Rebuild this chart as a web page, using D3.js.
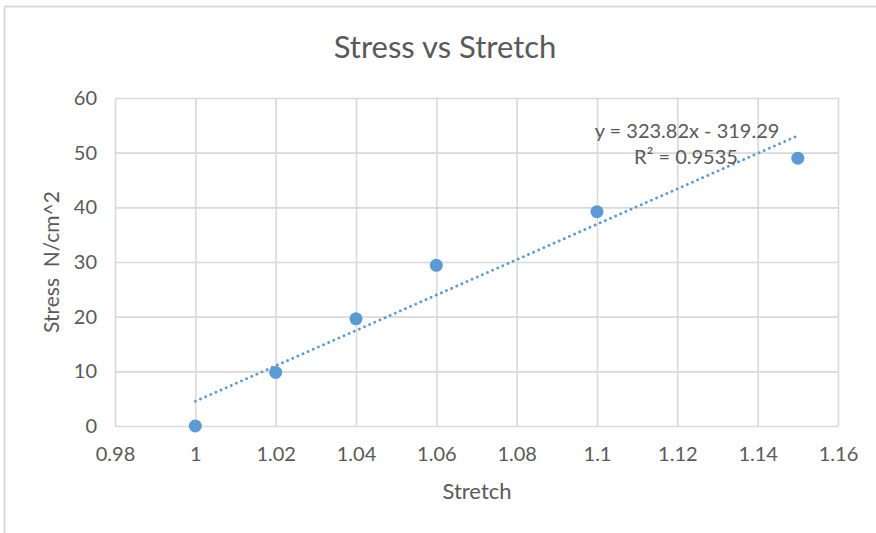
<!DOCTYPE html>
<html><head><meta charset="utf-8">
<script src="https://cdn.jsdelivr.net/npm/d3@7"></script>
<style>body{margin:0;background:#fff;} text{font-family:Lato,"Open Sans",sans-serif;fill:#595959;}</style>
</head><body>
<svg id="c" width="876" height="533"></svg>
<script>
const stretch = [1, 1.02, 1.04, 1.06, 1.1, 1.15];
const stress = [0, 9.8, 19.6, 29.4, 39.2, 49];
const xTicks = [0.98, 1, 1.02, 1.04, 1.06, 1.08, 1.1, 1.12, 1.14, 1.16];
const yTicks = [0, 10, 20, 30, 40, 50, 60];
const title = "Stress vs Stretch";
const xTitle = "Stretch";
const yTitle = "Stress  N/cm^2";
const slope = 323.82, intercept = -319.29;
const eqText = "y = 323.82x - 319.29";
const r2Text = "R² = 0.9535";

const svg = d3.select("#c");
const m = {l:115, r:838, t:98, b:426};
const x = d3.scaleLinear().domain([0.98,1.16]).range([m.l,m.r]);
const y = d3.scaleLinear().domain([0,60]).range([m.b,m.t]);
const grid = "#d9d9d9";

// chart border (partial, as cropped)
svg.append("line").attr("x1",4.5).attr("x2",876).attr("y1",6.5).attr("y2",6.5).attr("stroke",grid).attr("stroke-width",2);
svg.append("line").attr("x1",4.5).attr("x2",4.5).attr("y1",6.5).attr("y2",533).attr("stroke",grid).attr("stroke-width",2);

// gridlines
const gx = svg.append("g").attr("transform",`translate(0,${m.b})`)
  .call(d3.axisBottom(x).tickValues(xTicks).tickSize(-(m.b-m.t)).tickFormat(d=>d3.format("~g")(d)).tickPadding(21));
gx.select(".domain").remove();
gx.selectAll("line").attr("stroke",grid).attr("stroke-width",1.6);
gx.selectAll("text").style("font-size","20px").attr("fill","#595959");

const gy = svg.append("g").attr("transform",`translate(${m.l},0)`)
  .call(d3.axisLeft(y).tickValues(yTicks).tickSize(-(m.r-m.l)).tickFormat(d3.format("d")).tickPadding(18));
gy.select(".domain").remove();
gy.selectAll("line").attr("stroke",grid).attr("stroke-width",1.6);
gy.selectAll("text").style("font-size","20px").attr("fill","#595959");

// trendline
const x0 = d3.min(stretch), x1 = d3.max(stretch);
svg.append("line").attr("x1",x(x0)).attr("y1",y(slope*x0+intercept))
  .attr("x2",x(x1)).attr("y2",y(slope*x1+intercept))
  .attr("stroke","#5B9BD5").attr("stroke-width",2.8)
  .attr("stroke-dasharray","0.1 5.5").attr("stroke-linecap","round");

// points
svg.append("g").selectAll("circle").data(stretch.map((d,i)=>[d,stress[i]])).join("circle")
  .attr("cx",d=>x(d[0])).attr("cy",d=>y(d[1])).attr("r",6.5).attr("fill","#5B9BD5");

// equation
svg.append("text").attr("x",687).attr("y",138).attr("text-anchor","middle").style("font-size","20px").text(eqText);
svg.append("text").attr("x",686).attr("y",164).attr("text-anchor","middle").style("font-size","20px").text(r2Text);

// titles
svg.append("text").attr("x",445).attr("y",58).attr("text-anchor","middle").style("font-size","31px").text(title);
svg.append("text").attr("x",477).attr("y",499).attr("text-anchor","middle").style("font-size","22px").text(xTitle);
svg.append("text").attr("transform","translate(59,262) rotate(-90)").attr("text-anchor","middle").style("font-size","21px").style("white-space","pre").text(yTitle);
</script>
</body></html>
